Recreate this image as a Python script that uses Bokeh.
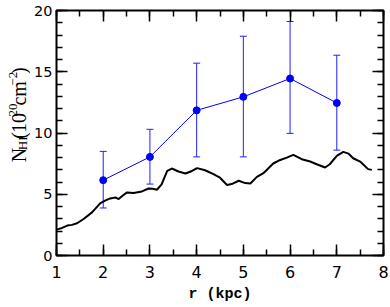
import math
from bokeh.plotting import figure
from bokeh.layouts import row
from bokeh.models import (Range1d, LinearAxis, SingleIntervalTicker, Whisker,
                          ColumnDataSource, Label, TeeHead)
from bokeh.embed import file_html
from bokeh.resources import INLINE

# ---- data ----
r_obs = [2, 3, 4, 5, 6, 7]
n_obs = [6.15, 8.05, 11.85, 12.95, 14.45, 12.45]
n_hi = [8.5, 10.3, 15.7, 17.9, 19.1, 16.35]
n_lo = [3.88, 5.83, 8.05, 8.05, 9.97, 8.6]

r_prof = [1.00, 1.12, 1.23, 1.33, 1.44, 1.58, 1.76, 1.94, 2.05, 2.15, 2.26, 2.33,
          2.42, 2.51, 2.65, 2.83, 2.97, 3.06, 3.15, 3.25, 3.37, 3.47, 3.61, 3.76,
          3.90, 4.01, 4.18, 4.36, 4.50, 4.65, 4.75, 4.90, 5.04, 5.15, 5.29, 5.43,
          5.64, 5.79, 5.93, 6.07, 6.25, 6.43, 6.57, 6.75, 6.85, 7.00, 7.14, 7.25,
          7.35, 7.50, 7.67, 7.75]
n_prof = [2.11, 2.25, 2.44, 2.50, 2.63, 2.98, 3.52, 4.28, 4.50, 4.66, 4.74, 4.61,
          4.90, 5.15, 5.10, 5.23, 5.47, 5.45, 5.37, 5.80, 6.91, 7.10, 6.86, 6.69,
          6.90, 7.13, 6.96, 6.64, 6.35, 5.75, 5.83, 6.10, 5.91, 5.88, 6.42, 6.72,
          7.51, 7.80, 7.99, 8.21, 7.86, 7.67, 7.45, 7.18, 7.45, 8.13, 8.46, 8.32,
          7.94, 7.67, 7.05, 6.99]

x_ticks_interval = 1
y_ticks_interval = 5

# ---- layout ----
W, H = 390, 307
LW = 30                       # width of the y-label strip
BL, BR, BT, BB = 56 - LW, 7, 10, 52
XMIN, XMAX, YMIN, YMAX = 1, 8, 0, 20

p = figure(width=W - LW, height=H, output_backend="svg", toolbar_location=None,
           x_range=Range1d(XMIN, XMAX), y_range=Range1d(YMIN, YMAX),
           x_axis_type=None, y_axis_type=None,
           min_border_left=BL, min_border_right=BR, min_border_top=BT,
           min_border_bottom=BB)
p.grid.visible = False
p.outline_line_color = "black"
p.outline_line_width = 2
p.background_fill_color = "white"
p.border_fill_color = "white"

def mk_axis(ticker, show_labels):
    ax = LinearAxis(ticker=ticker)
    ax.axis_line_color = None
    ax.major_tick_in = 11
    ax.major_tick_out = 0
    ax.minor_tick_in = 6
    ax.minor_tick_out = 0
    ax.major_tick_line_width = 1.5
    ax.minor_tick_line_width = 1.5
    ax.major_tick_line_color = "black"
    ax.minor_tick_line_color = "black"
    if not show_labels:
        ax.major_label_text_alpha = 0
        ax.major_label_text_font_size = "1px"
        ax.major_label_standoff = 0
    return ax

xt = SingleIntervalTicker(interval=x_ticks_interval, num_minor_ticks=2)
yt = SingleIntervalTicker(interval=y_ticks_interval, num_minor_ticks=5)

xb = mk_axis(xt, True)
xb.major_label_text_font = "DejaVu Sans"
xb.major_label_text_font_size = "16px"
xb.major_label_text_color = "black"
xb.major_label_standoff = 10
xb.axis_label = "r (kpc)"
xb.axis_label_text_font = "Liberation Mono"
xb.axis_label_text_font_style = "bold"
xb.axis_label_text_font_size = "15px"
xb.axis_label_standoff = 5
xb.axis_label_text_color = "black"
p.add_layout(xb, "below")

yl = mk_axis(yt, True)
yl.major_label_text_font = "DejaVu Sans"
yl.major_label_text_font_size = "14.5px"
yl.major_label_text_color = "black"
yl.major_label_standoff = 4
p.add_layout(yl, "left")

p.add_layout(mk_axis(SingleIntervalTicker(interval=x_ticks_interval, num_minor_ticks=2), False), "above")
p.add_layout(mk_axis(SingleIntervalTicker(interval=y_ticks_interval, num_minor_ticks=5), False), "right")

# black profile
p.line(r_prof, n_prof, line_color="black", line_width=2)

# blue points with error bars
src = ColumnDataSource(dict(r=r_obs, n=n_obs, hi=n_hi, lo=n_lo))
wh = Whisker(source=src, base="r", upper="hi", lower="lo",
             line_color="#2020ff", line_width=1,
             upper_head=TeeHead(size=7, line_color="#2020ff", line_width=1),
             lower_head=TeeHead(size=7, line_color="#2020ff", line_width=1))
p.add_layout(wh)
p.line("r", "n", source=src, line_color="blue", line_width=1)
p.scatter("r", "n", source=src, size=7, color="blue")

# ---- y label strip: rotated label built from pieces (sub/superscripts) ----
q = figure(width=LW, height=H, output_backend="svg", toolbar_location=None,
           x_range=Range1d(0, LW), y_range=Range1d(0, H),
           x_axis_type=None, y_axis_type=None,
           min_border_left=0, min_border_right=0, min_border_top=0,
           min_border_bottom=0)
q.grid.visible = False
q.outline_line_color = None
q.background_fill_color = "white"
q.border_fill_color = "white"

MAIN, SMALL = 20, 13
times_w = {"N": 0.722, "H": 0.722, "I": 0.333, "(": 0.333, ")": 0.333,
           "0": 0.5, "1": 0.5, "2": 0.5, "c": 0.444, "m": 0.778, "\u2212": 0.564}
pieces = [("N", MAIN, 0), ("HI", SMALL, 4), ("(", MAIN, 0), ("10", MAIN, 0),
          ("20", SMALL, -6), ("cm", MAIN, 0), ("\u22122", SMALL, -6), (")", MAIN, 0)]
base_x = 18          # px of main baseline from the left
pos = 190            # px from the top where the label starts (its bottom end)
for txt, sz, shift in pieces:
    lab = Label(x=base_x + shift, y=H - pos, text=txt, angle=math.pi / 2,
                text_font="Liberation Serif", text_font_size=f"{sz}px",
                text_align="left", text_baseline="alphabetic", text_color="black")
    q.add_layout(lab)
    pos -= sum(times_w.get(ch, 0.5) for ch in txt) * sz + 0.6

layout = row(q, p, spacing=0)
open("out.html", "w").write(file_html(layout, INLINE))
